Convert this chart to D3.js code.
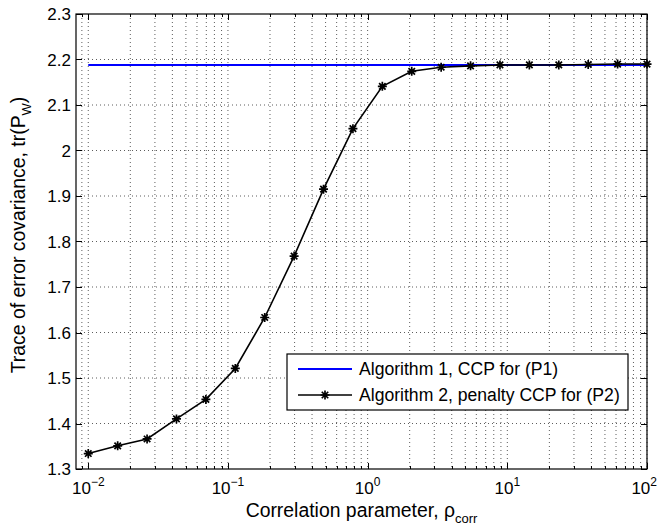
<!DOCTYPE html>
<html>
<head>
<meta charset="utf-8">
<script src="https://cdn.jsdelivr.net/npm/d3@7"></script>
<style>
  body { margin: 0; background: #fff; }
  svg { display: block; font-family: "Liberation Sans", Arial, Helvetica, sans-serif; }
</style>
</head>
<body>
<svg id="root" width="658" height="525"></svg>
<script>
// correlation parameter values (x, log scale)
const rhoValues = [0.01, 0.01624, 0.02637, 0.04281, 0.06952, 0.1129, 0.1833, 0.2976, 0.4833, 0.7848,
  1.2743, 2.0691, 3.3598, 5.4556, 8.8587, 14.384, 23.357, 37.927, 61.585, 100];
// Algorithm 2, penalty CCP for (P2)
const alg2Values = [1.334, 1.351, 1.366, 1.410, 1.453, 1.521, 1.633, 1.768, 1.915, 2.048,
  2.141, 2.174, 2.183, 2.186, 2.188, 2.188, 2.188, 2.189, 2.190, 2.190];
// Algorithm 1, CCP for (P1) - constant
const alg1Value = 2.188;
const alg1Range = [0.01, 100];

const yTicks = [1.3, 1.4, 1.5, 1.6, 1.7, 1.8, 1.9, 2, 2.1, 2.2, 2.3];
const xDecades = [-2, -1, 0, 1, 2];
const legendLabels = ["Algorithm 1, CCP for (P1)", "Algorithm 2, penalty CCP for (P2)"];

const margin = { left: 76, right: 11, top: 14, bottom: 56 };
const width = 658, height = 525;
const plotW = width - margin.left - margin.right;
const plotH = height - margin.top - margin.bottom;

const svg = d3.select("#root");

const x = d3.scaleLog().domain([0.00817, 100]).range([0, plotW]);
const y = d3.scaleLinear().domain([1.3, 2.3]).range([plotH, 0]);

const g = svg.append("g").attr("transform", `translate(${margin.left},${margin.top})`);

// minor + major x positions
const xAll = [{ v: 0.009, major: false }];
xDecades.forEach((e) => {
  for (let k = 1; k <= 9; k++) {
    const v = k * Math.pow(10, e);
    if (v <= 100) xAll.push({ v, major: k === 1 });
  }
});

// grid (dotted)
const grid = g.append("g").attr("stroke", "#333").attr("stroke-width", 0.8).attr("stroke-dasharray", "1,3");
grid.selectAll(".vgrid")
  .data(xAll)
  .enter()
  .append("line")
  .attr("x1", (d) => x(d.v)).attr("x2", (d) => x(d.v))
  .attr("y1", 0).attr("y2", plotH);
grid.selectAll(".hgrid")
  .data(yTicks.slice(1, -1))
  .enter()
  .append("line")
  .attr("x1", 0).attr("x2", plotW)
  .attr("y1", (d) => y(d)).attr("y2", (d) => y(d));

// ticks (inward, all four sides)
const ticks = g.append("g").attr("stroke", "#000").attr("stroke-width", 1);
xAll.forEach((d) => {
  const len = d.major ? 6 : 3;
  const px = Math.round(x(d.v)) + 0.5;
  ticks.append("line").attr("x1", px).attr("x2", px).attr("y1", plotH).attr("y2", plotH - len);
  ticks.append("line").attr("x1", px).attr("x2", px).attr("y1", 0).attr("y2", len);
});
yTicks.forEach((v) => {
  const py = Math.round(y(v)) + 0.5;
  ticks.append("line").attr("x1", 0).attr("x2", 6).attr("y1", py).attr("y2", py);
  ticks.append("line").attr("x1", plotW).attr("x2", plotW - 6).attr("y1", py).attr("y2", py);
});

// frame
g.append("rect")
  .attr("x", 0).attr("y", 0).attr("width", plotW).attr("height", plotH)
  .attr("fill", "none").attr("stroke", "#000").attr("stroke-width", 1.2);

// y tick labels
g.selectAll(".ylab")
  .data(yTicks)
  .enter()
  .append("text")
  .attr("x", -5)
  .attr("y", (d) => y(d))
  .attr("dy", "0.36em")
  .attr("text-anchor", "end")
  .style("font-size", "17px")
  .text((d) => (d === 2 ? "2" : d3.format(".1f")(d)));

// x tick labels 10^e (last one kept inside the picture)
const xl = g.selectAll(".xlab")
  .data(xDecades)
  .enter()
  .append("text")
  .attr("x", (d, i) => (i === xDecades.length - 1 ? width - margin.left - 1 : x(Math.pow(10, d))))
  .attr("y", plotH + 25)
  .attr("text-anchor", (d, i) => (i === xDecades.length - 1 ? "end" : "middle"))
  .style("font-size", "17px");
xl.append("tspan").text("10");
xl.append("tspan")
  .attr("dy", -8)
  .style("font-size", "12px")
  .text((d) => (d < 0 ? "\u2212" + Math.abs(d) : String(d)));

// lines
const line = d3.line().x((d) => x(d[0])).y((d) => y(d[1]));
g.append("path")
  .datum(alg1Range.map((v) => [v, alg1Value]))
  .attr("d", line)
  .attr("fill", "none")
  .attr("stroke", "#0000ff")
  .attr("stroke-width", 2);

const pts = rhoValues.map((v, i) => [v, alg2Values[i]]);
g.append("path")
  .datum(pts)
  .attr("d", line)
  .attr("fill", "none")
  .attr("stroke", "#000")
  .attr("stroke-width", 1.6);

// asterisk markers
function asterisk(sel, r) {
  sel.append("path")
    .attr("d", () => {
      const a = r * 0.72;
      return `M${-r},0L${r},0M0,${-r}L0,${r}M${-a},${-a}L${a},${a}M${-a},${a}L${a},${-a}`;
    })
    .attr("stroke", "#000")
    .attr("stroke-width", 1.7)
    .attr("fill", "none");
}
g.selectAll(".marker")
  .data(pts)
  .enter()
  .append("g")
  .attr("transform", (d) => `translate(${x(d[0])},${y(d[1])})`)
  .call(asterisk, 4.5);

// legend
const leg = svg.append("g").attr("transform", "translate(287,354)");
leg.append("rect")
  .attr("width", 341).attr("height", 56)
  .attr("fill", "#fff").attr("stroke", "#000").attr("stroke-width", 1.2);
const legColors = ["#0000ff", "#000"];
legendLabels.forEach((lab, i) => {
  const ly = 15 + i * 26;
  leg.append("line")
    .attr("x1", 11).attr("x2", 65).attr("y1", ly).attr("y2", ly)
    .attr("stroke", legColors[i]).attr("stroke-width", i === 0 ? 2 : 1.6);
  if (i === 1) leg.append("g").attr("transform", `translate(38,${ly})`).call(asterisk, 4.5);
  leg.append("text")
    .attr("x", 72).attr("y", ly).attr("dy", "0.36em")
    .style("font-size", "17.6px")
    .text(lab);
});

// axis labels
const xt = svg.append("text")
  .attr("x", margin.left + plotW / 2)
  .attr("y", 517)
  .attr("text-anchor", "middle")
  .style("font-size", "19.4px");
xt.append("tspan").text("Correlation parameter, \u03c1");
xt.append("tspan").attr("dy", 6).style("font-size", "13px").text("corr");

const yt = svg.append("text")
  .attr("transform", `translate(25,235) rotate(-90)`)
  .attr("text-anchor", "middle")
  .style("font-size", "19.4px");
yt.append("tspan").text("Trace of error covariance, tr(P");
yt.append("tspan").attr("dy", 6).style("font-size", "13px").text("W");
yt.append("tspan").attr("dy", -6).text(")");
</script>
</body>
</html>
